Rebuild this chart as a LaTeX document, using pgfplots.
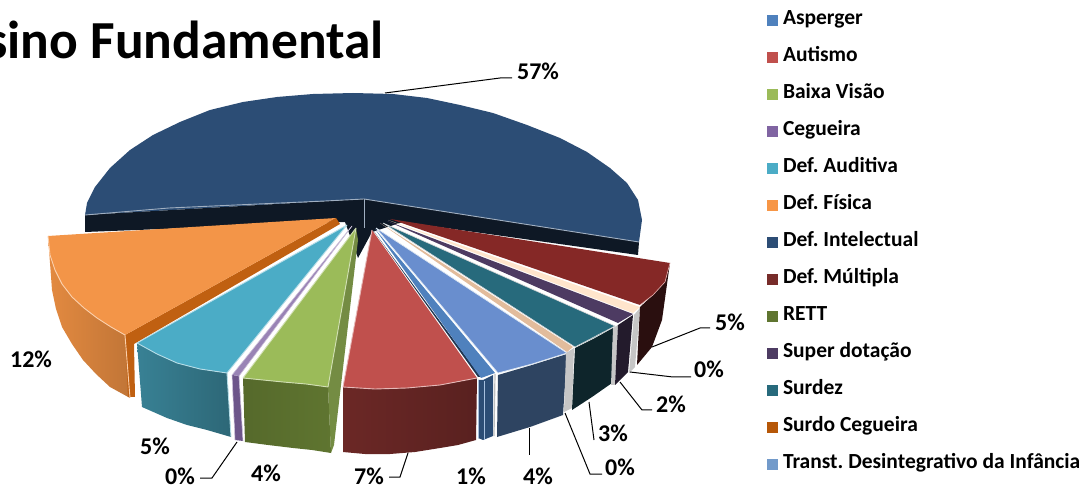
\documentclass[border=0pt]{standalone}
\usepackage{fontspec}
\setmainfont{Carlito}
\usepackage{pgfplots}
\pgfplotsset{compat=1.18}
\definecolor{cAsp}{HTML}{4F81BD}
\definecolor{cAut}{HTML}{C0504D}
\definecolor{cBai}{HTML}{9BBB59}
\definecolor{cCeg}{HTML}{8064A2}
\definecolor{cAud}{HTML}{4BACC6}
\definecolor{cFis}{HTML}{F79646}
\definecolor{cInt}{HTML}{2C4D75}
\definecolor{cMul}{HTML}{772C2A}
\definecolor{cRet}{HTML}{5F7530}
\definecolor{cSup}{HTML}{4D3B62}
\definecolor{cSur}{HTML}{276A7C}
\definecolor{cSce}{HTML}{B65708}
\definecolor{cTra}{HTML}{729ACA}
\definecolor{cTraSide}{HTML}{2E4461}
\pgfplotsset{
  face/.style={forget plot, line join=round, draw=none},
  edge/.style={forget plot, line join=round, line width=0.9pt},
  leader/.style={forget plot, black, line width=1pt},
}
\newcommand{\pct}[3]{\node[font=\fontsize{24}{26}\selectfont\bfseries, inner sep=0pt] at (axis cs:#1,#2) {#3\%};}
\frenchspacing
\begin{document}
\begin{tikzpicture}
\begin{axis}[
  scale only axis, width=1085pt, height=486pt,
  xmin=0, xmax=1085, ymin=0, ymax=486, y dir=reverse,
  hide axis, clip=false,
  legend cell align=left,
  legend image code/.code={\path[#1, draw=none] (0pt,-5.5pt) rectangle (11pt,5.5pt);},
  legend style={
    at={(axis cs:767,10)}, anchor=north west, draw=none, fill=none,
    inner sep=0pt, outer sep=0pt, row sep=16.2pt, column sep=5pt,
    font=\fontsize{21.5}{23}\selectfont\bfseries,
    nodes={text height=14.5pt, text depth=6.3pt, inner sep=0pt, outer sep=0pt},
  },
]
\addlegendimage{fill=cAsp}\addlegendentry{Asperger}
\addlegendimage{fill=cAut}\addlegendentry{Autismo}
\addlegendimage{fill=cBai}\addlegendentry{Baixa Visão}
\addlegendimage{fill=cCeg}\addlegendentry{Cegueira}
\addlegendimage{fill=cAud}\addlegendentry{Def. Auditiva}
\addlegendimage{fill=cFis}\addlegendentry{Def. Física}
\addlegendimage{fill=cInt}\addlegendentry{Def. Intelectual}
\addlegendimage{fill=cMul}\addlegendentry{Def. Múltipla}
\addlegendimage{fill=cRet}\addlegendentry{RETT}
\addlegendimage{fill=cSup}\addlegendentry{Super dotação}
\addlegendimage{fill=cSur}\addlegendentry{Surdez}
\addlegendimage{fill=cSce}\addlegendentry{Surdo Cegueira}
\addlegendimage{fill=cTra}\addlegendentry{Transt. Desintegrativo da Infância}

% keeps the page at the full frame, the axis is hidden
\addplot[forget plot, draw=none] coordinates {(0,0)(1085,486)};

% Def. Intelectual, back slice
\addplot[face, fill=cInt] coordinates {(364,199)(85,215)(87,203)(95,187)(110,168)(130,150)(153,135)(180,122)(210,110)(243,102)(277,97)(313,94)(353,93)(393,94)(427,98)(460,105)(493,113)(527,125)(560,138)(587,152)(610,168)(627,183)(638,200)(642,220)(639,242)} --cycle;
\addplot[face, fill=black!55!cInt!70!black] coordinates {(85,215)(364,199)(639,242)(638,255)(403,222)(372,232)(358,258)(345,222)(85,232)} --cycle;
\addplot[edge, color=cInt!45!white] coordinates {(85,215)(169,208)(325,201)(364,199)(639,242)};
\addplot[edge, color=cInt!45!white] coordinates {(364,199)(364,228)};

% Def. Física
\addplot[face, left color=cFis!92!black, right color=cFis!78!black] coordinates {(48,236)(50,255)(55,270)(62,284)(72,297)(84,308)(97,318)(111,327)(125,335)(130,398)(110,387)(96,374)(83,360)(72,344)(62,327)(56,309)(52,290)} --cycle;
\addplot[face, fill=cSce!85!cFis] coordinates {(336,218)(340,224)(134,344)(135,397)(128,397)(125,335)} --cycle;
\addplot[face, fill=cFis!97!gray] coordinates {(336,218)(48,236)(50,255)(55,270)(62,284)(72,297)(84,308)(97,318)(111,327)(125,335)} --cycle;
\addplot[edge, color=cFis!45!white] coordinates {(48,236)(50,255)(55,270)(62,284)(72,297)(84,308)(97,318)(111,327)(125,335)(130,398)};

% Def. Auditiva
\addplot[face, left color=cAud!75!black, right color=cAud!60!black] coordinates {(137,343)(157,354)(177,363)(200,369)(227,373)(231,437)(207,430)(187,425)(167,418)(142,407)} --cycle;
\addplot[face, fill=cAud] coordinates {(347,225)(137,343)(157,354)(177,363)(200,369)(227,373)} --cycle;
\addplot[edge, color=cAud!40!white] coordinates {(347,225)(137,343)(157,354)(177,363)(200,369)(227,373)(347,225)};
\addplot[edge, color=cAud!40!white] coordinates {(227,373)(231,437)};

% Cegueira
\addplot[face, fill=cCeg!85!black] coordinates {(232,375)(239,376)(243,441)(235,440)} --cycle;
\addplot[face, fill=cCeg!80!white] coordinates {(352,226)(232,375)(239,376)} --cycle;
\addplot[edge, color=cCeg!40!white, line width=0.6pt] coordinates {(352,226)(232,375)(235,440)};
\addplot[edge, color=cCeg!40!white, line width=0.6pt] coordinates {(352,226)(239,376)(243,441)};

% Baixa Visão / RETT side
\addplot[face, fill=cBai!75!black] coordinates {(356,228)(358,240)(334,445)(331,453)(328,387)} --cycle;
\addplot[face, left color=cRet!90!black, right color=cRet] coordinates {(243,378)(263,380)(283,382)(306,384)(328,387)(331,453)(312,450)(293,448)(268,445)(245,442)} --cycle;
\addplot[face, fill=cBai] coordinates {(356,228)(243,378)(263,380)(283,382)(306,384)(328,387)} --cycle;
\addplot[edge, color=cBai!45!white] coordinates {(356,228)(243,378)(263,380)(283,382)(306,384)(328,387)(356,228)};

% Autismo
\addplot[face, left color=cMul!90!black, right color=cMul!75!black] coordinates {(343,387)(375,389)(407,388)(440,385)(477,378)(476,440)(458,445)(440,448)(415,452)(390,454)(365,454)(343,452)} --cycle;
\addplot[face, fill=cAut] coordinates {(372,230)(343,387)(375,389)(407,388)(440,385)(477,378)} --cycle;
\addplot[edge, color=cAut!40!white] coordinates {(372,230)(343,387)(375,389)(407,388)(440,385)(477,378)};

% Asperger
\addplot[face, fill=cInt] coordinates {(478,380)(483,380)(493,375)(493,436)(483,440)(478,438)} --cycle;
\addplot[face, fill=cInt!70!black] coordinates {(373,230)(478,377)(481,377)} --cycle;
\addplot[face, fill=cAsp] coordinates {(375,229)(481,378)(495,373)} --cycle;
\addplot[edge, color=cAsp!50!white, line width=0.6pt] coordinates {(478,380)(478,438)};
\addplot[edge, color=cAsp!50!white, line width=0.6pt] coordinates {(484,381)(484,440)};

% Transt. Desintegrativo
\addplot[face, fill=cTraSide] coordinates {(498,375)(532,365)(567,354)(563,415)(530,427)(497,437)} --cycle;
\addplot[face, fill=cTra!92!blue] coordinates {(376,228)(498,373)(532,364)(567,353)} --cycle;
\addplot[edge, color=white!75!cTra, line width=0.7pt] coordinates {(376,228)(498,373)(532,364)(567,353)(376,228)};
\addplot[edge, color=gray!50!white, line width=1.2pt] coordinates {(495,374)(494,436)};

% Surdo Cegueira
\addplot[face, fill=gray!45!white] coordinates {(566,353)(574,348)(572,408)(564,412)} --cycle;
\addplot[face, fill=cSce!40!white] coordinates {(380,223)(567,352)(573,347)} --cycle;

% Surdez
\addplot[face, fill=cSur!35!black] coordinates {(575,348)(595,338)(613,328)(612,383)(592,397)(572,410)} --cycle;
\addplot[face, fill=cSur] coordinates {(383,223)(575,347)(595,337)(615,326)} --cycle;
\addplot[edge, color=gray!30!white, line width=0.6pt] coordinates {(383,223)(575,347)(615,326)(383,223)};

% Super dotação
\addplot[face, fill=gray!45!white] coordinates {(613,328)(618,325)(615,385)(611,385)} --cycle;
\addplot[face, fill=cSup!45!black] coordinates {(618,325)(633,315)(628,372)(615,385)} --cycle;
\addplot[face, fill=cSup] coordinates {(387,221)(618,323)(633,314)} --cycle;

% RETT strip
\addplot[face, fill=gray!45!white] coordinates {(634,315)(640,308)(635,367)(629,373)} --cycle;
\addplot[face, fill=orange!20!white] coordinates {(388,220)(633,313)(640,307)} --cycle;

% Def. Múltipla
\addplot[face, fill=cMul!35!black] coordinates {(640,307)(653,295)(665,282)(670,263)(668,277)(662,320)(652,347)(637,365)} --cycle;
\addplot[face, fill=cMul!90!red] coordinates {(390,219)(640,305)(653,295)(665,282)(670,263)} --cycle;
\addplot[edge, color=cAut!45!white, line width=0.6pt] coordinates {(640,305)(653,295)(665,282)(670,263)};

% leader lines
\addplot[leader] coordinates {(385,93)(500,78)(512,78)};
\addplot[leader] coordinates {(652,347)(700,328)(710,328)};
\addplot[leader] coordinates {(630,372)(673,377)(691,377)};
\addplot[leader] coordinates {(620,382)(642,410)(652,410)};
\addplot[leader] coordinates {(589,402)(594,440)};
\addplot[leader] coordinates {(565,413)(590,474)(602,474)};
\addplot[leader] coordinates {(529,428)(529,455)};
\addplot[leader] coordinates {(408,453)(400,477)(389,477)};
\addplot[leader] coordinates {(237,442)(212,478)(200,478)};

% percentages
\pct{538}{71}{57}
\pct{730}{322}{5}
\pct{709}{369}{0}
\pct{671}{404}{2}
\pct{613}{433}{3}
\pct{620}{467}{0}
\pct{538}{476}{4}
\pct{471}{476}{1}
\pct{369}{476}{7}
\pct{266}{473}{4}
\pct{180}{476}{0}
\pct{155}{446}{5}
\pct{31}{359}{12}

% title runs off the left edge of the page
\node[overlay, anchor=east, inner sep=0pt, font=\fontsize{53.5}{56}\selectfont\bfseries] at (axis cs:384,40) {Ensino Fundamental};
\end{axis}
\end{tikzpicture}
\end{document}
